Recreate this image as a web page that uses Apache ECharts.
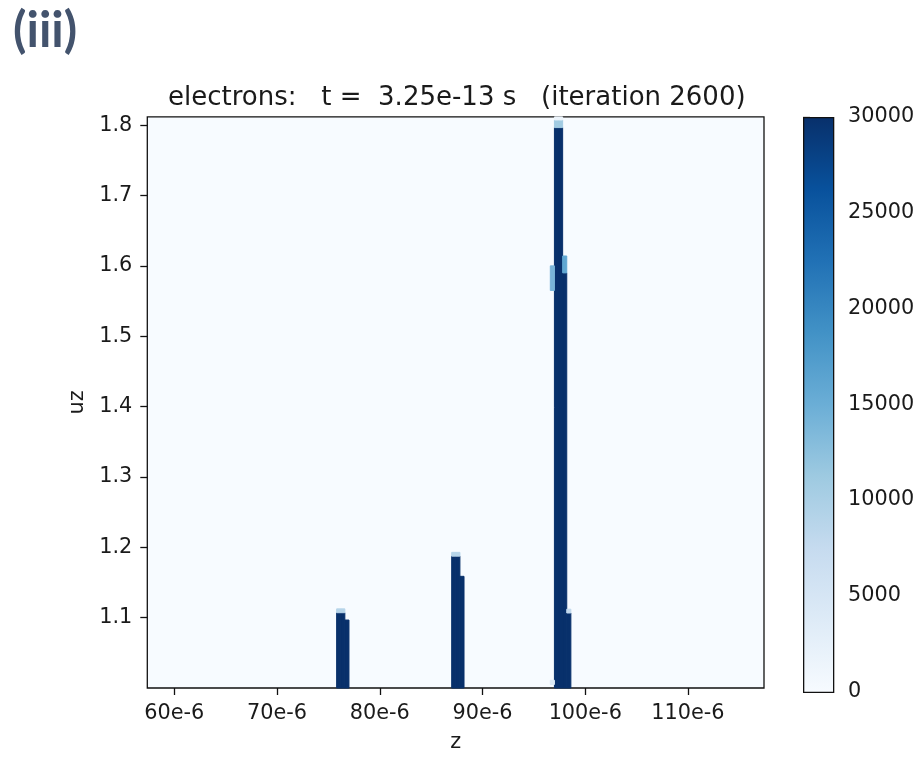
<!DOCTYPE html>
<html>
<head>
<meta charset="utf-8">
<script src="https://cdn.jsdelivr.net/npm/echarts@6/dist/echarts.min.js"></script>
<style>
  html, body { margin: 0; padding: 0; background: #fff; }
  #container { width: 919px; height: 758px; }
</style>
</head>
<body>
<div id="container"></div>
<script>
// histogram of electrons, z in units of 1e-6
var zBinWidth = 0.4;
// one entry per run of bins with the same count: left edge of z bin, uz low, uz high, count
var cellZ     = [75.8, 76.2, 75.8, 76.2, 76.6,
                 87.0, 87.4, 87.0, 87.4, 87.8,
                 97.0, 97.4, 97.0, 97.4, 97.0, 97.4,
                 97.8, 97.8, 96.6, 98.2, 98.2, 96.6];
var cellUzLow = [1.0, 1.0, 1.107, 1.107, 1.0,
                 1.0, 1.0, 1.1874, 1.1874, 1.0,
                 1.0, 1.0, 1.7965, 1.7965, 1.8074, 1.8074,
                 1.0, 1.59, 1.565, 1.0, 1.1066, 1.005];
var cellUzHigh = [1.107, 1.107, 1.1125, 1.1125, 1.0966,
                  1.1874, 1.1874, 1.1928, 1.1928, 1.1587,
                  1.7965, 1.7965, 1.8074, 1.8074, 1.8117, 1.8117,
                  1.59, 1.614, 1.60, 1.1066, 1.112, 1.011];
var cellCount = [30000, 30000, 9000, 9000, 30000,
                 30000, 30000, 9000, 9000, 30000,
                 30000, 30000, 11000, 11000, 1500, 1500,
                 30000, 16000, 14000, 30000, 8000, 4000];

var zTicks = [60, 70, 80, 90, 100, 110];
var uzTicks = [1.1, 1.2, 1.3, 1.4, 1.5, 1.6, 1.7, 1.8];

var blues = ['#f7fbff', '#deebf7', '#c6dbef', '#9ecae1', '#6baed6',
             '#4292c6', '#2171b5', '#08519c', '#08306b'];

var cells = [];
for (var i = 0; i < cellZ.length; i++) {
   cells.push([cellZ[i], cellUzLow[i], cellZ[i] + zBinWidth, cellUzHigh[i], cellCount[i]]);
}

var dom = document.getElementById('container');
var myChart = echarts.init(dom, null, { renderer: 'canvas' });

var font = 'DejaVu Sans';
var txt = { fontFamily: font, fontSize: 20.8, color: '#1a1a1a' };

// colorbar: same colormap as the visualMap, bottom (0) to top (30000)
var cbarStops = blues.map(function (c, k) {
   return { offset: k / (blues.length - 1), color: c };
});

var option = {
   backgroundColor: '#fff',
   animation: false,
   title: [
      {
         text: '(iii)', left: 8, top: 2,
         textStyle: { fontFamily: 'Lato', fontSize: 49, fontWeight: 'bold', color: '#43536d' }
      },
      {
         text: 'electrons:   t =  3.25e-13 s   (iteration 2600)', left: 163, top: 80,
         textStyle: { fontFamily: font, fontSize: 26, fontWeight: 'normal', color: '#1a1a1a' }
      }
   ],
   grid: [
      { left: 147.3, top: 116.9, width: 616.7, height: 574.8, show: true,
        backgroundColor: blues[0], borderColor: '#111', borderWidth: 1.3 },
      { left: 803, top: 116.9, width: 30, height: 574.8, show: false }
   ],
   graphic: [
      {
         type: 'rect', left: 803, top: 116.9, z: 5,
         shape: { width: 30, height: 574.8 },
         style: {
            fill: new echarts.graphic.LinearGradient(0, 1, 0, 0, cbarStops),
            stroke: '#111', lineWidth: 1.3
         }
      }
   ],
   visualMap: {
      type: 'continuous',
      show: false,
      seriesIndex: 0,
      dimension: 4,
      min: 0, max: 30000,
      inRange: { color: blues }
   },
   xAxis: [
      {
         type: 'value', gridIndex: 0, min: 57.37, max: 117.4,
         name: 'z', nameLocation: 'middle', nameGap: 44,
         nameTextStyle: txt,
         axisLine: { show: false },
         axisTick: { show: true, length: 7, customValues: zTicks, lineStyle: { color: '#111', width: 1.3 } },
         axisLabel: { customValues: zTicks, margin: 15, fontFamily: font, fontSize: 20.8, color: '#1a1a1a',
                      formatter: function (v) { return v + 'e-6'; } },
         splitLine: { show: false }
      },
      { type: 'value', gridIndex: 1, min: 0, max: 1, show: false }
   ],
   yAxis: [
      {
         type: 'value', gridIndex: 0, min: 1.0, max: 1.8117,
         name: 'uz', nameLocation: 'middle', nameGap: 58,
         nameTextStyle: txt,
         axisLine: { show: false },
         axisTick: { show: true, length: 7, customValues: uzTicks, lineStyle: { color: '#111', width: 1.3 } },
         axisLabel: { customValues: uzTicks, margin: 15, fontFamily: font, fontSize: 20.8, color: '#1a1a1a',
                      formatter: function (v) { return v.toFixed(1); } },
         splitLine: { show: false }
      },
      {
         type: 'value', gridIndex: 1, min: 0, max: 30000, interval: 5000, position: 'right',
         axisLine: { show: false },
         axisTick: { show: true, length: 7, lineStyle: { color: '#111', width: 1.3 } },
         axisLabel: { margin: 15, fontFamily: font, fontSize: 20.8, color: '#1a1a1a',
                      formatter: function (v) { return String(v); } },
         splitLine: { show: false }
      }
   ],
   series: [
      {
         type: 'custom',
         xAxisIndex: 0, yAxisIndex: 0,
         encode: { x: [0, 2], y: [1, 3] },
         data: cells,
         renderItem: function (params, api) {
            var p0 = api.coord([api.value(0), api.value(3)]);
            var p1 = api.coord([api.value(2), api.value(1)]);
            var c = api.visual('color');
            return {
               type: 'rect',
               shape: { x: p0[0], y: p0[1], width: p1[0] - p0[0], height: p1[1] - p0[1] },
               style: { fill: c, stroke: c, lineWidth: 1 }
            };
         }
      }
   ]
};

myChart.setOption(option);
window.addEventListener('resize', myChart.resize);
</script>
</body>
</html>
